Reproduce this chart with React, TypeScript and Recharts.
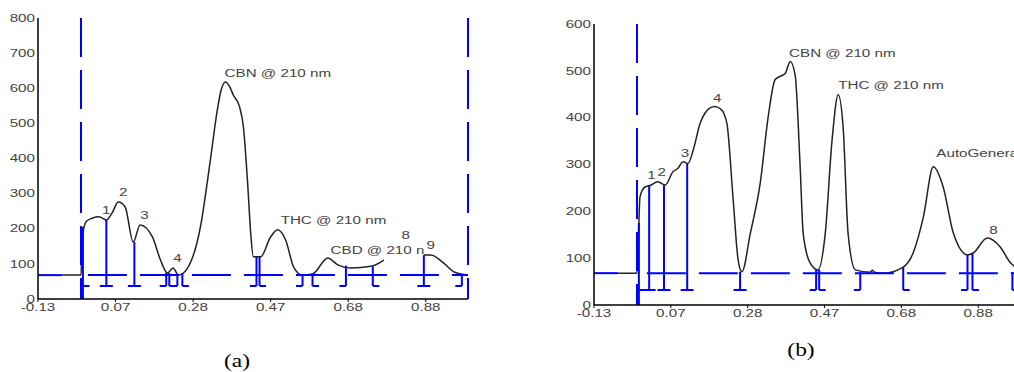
import { LineChart, Line, XAxis, YAxis, ReferenceLine, ReferenceDot } from "recharts";

// shared x axis (retention time, min)
const xDomain = [-0.13, 0.99];
const xTickValues = [-0.13, 0.072, 0.274, 0.476, 0.678, 0.88];
const xTickLabels = ["-0.13", "0.07", "0.28", "0.47", "0.68", "0.88"];

// ---- chromatogram (a)
const yTicksA = [0, 100, 200, 300, 400, 500, 600, 700, 800];
const timeA = [
  -0.067, -0.018, -0.015, -0.005, 0.011, 0.029, 0.048, 0.063, 0.079, 0.097, 0.118, 0.136, 0.168,
  0.189, 0.207, 0.222, 0.236, 0.249, 0.293, 0.319, 0.337, 0.347, 0.358, 0.369, 0.379, 0.395, 0.405,
  0.416, 0.424, 0.431, 0.45, 0.475, 0.494, 0.515, 0.536, 0.559, 0.585, 0.625, 0.651, 0.685, 0.737, 0.771,
  0.8, 0.875, 0.893, 0.927, 0.954, 0.99,
];
const signalA = [
  68, 68, 170, 220, 230, 234, 225, 245, 276, 262, 162, 211, 177,
  111, 74, 88, 68, 74, 205, 396, 538, 595, 618, 605, 580, 547, 490,
  330, 188, 120, 120, 175, 197, 168, 91, 68, 71, 117, 97, 88, 93, 111,
  null, 125, 125, 102, 77, 68,
];
const peakTextA = ["1", "2", "3", "4", "CBN @ 210 nm", "THC @ 210 nm", "CBD @ 210 n", "8", "9"];
const peakTimeA = [0.048, 0.092, 0.147, 0.233, 0.356, 0.502, 0.632, 0.828, 0.893];
const peakLevelA = [254, 304, 239, 117, 644, 225, 140, 182, 154];
// integration marks: time, top, bottom, cap side
const markTimeA = [-0.013, 0.048, 0.121, 0.204, 0.212, 0.233, 0.246, 0.439, 0.447, 0.559, 0.585, 0.672, 0.742, 0.875, 0.974];
const markTopA = [205, 225, 162, 74, 74, 68, 74, 120, 120, 68, 71, 95, 93, 125, 68];
const markBottomA = [0, 37, 37, 37, 37, 37, 37, 37, 37, 37, 37, 37, 37, 37, 37];
const markCapA = ["right", "both", "both", "left", "right", "left", "right", "left", "right", "left", "right", "left", "right", "both", "left"];
const eventLinesA = [-0.018, 0.99];

// ---- chromatogram (b)
const yTicksB = [0, 100, 200, 300, 400, 500, 600];
const timeB = [
  -0.067, -0.017, -0.009, 0.004, 0.017, 0.038, 0.057, 0.078, 0.091, 0.104, 0.117, 0.131, 0.149,
  0.162, 0.175, 0.188, 0.202, 0.212, 0.22, 0.236, 0.249, 0.259, 0.281, 0.307, 0.328, 0.346, 0.359, 0.373, 0.386, 0.399,
  0.412, 0.42, 0.438, 0.459, 0.478, 0.496, 0.512, 0.525, 0.538, 0.557, 0.596, 0.602, 0.607, 0.631,
  0.683, 0.709, 0.736, 0.762, 0.788, 0.815, 0.852, 0.867, 0.904, 0.938, 0.965, 0.99,
];
const signalB = [
  68, 68, 231, 252, 255, 263, 256, 285, 292, 306, 302, 331, 388,
  410, 421, 424, 419, 408, 385, 224, 96, 71, 153, 260, 402, 481, 488, 495, 520, 490,
  295, 153, 90, 75, 153, 353, 449, 380, 153, 75, 70, 74, 70, 68,
  81, 111, 188, 295, 252, 153, 107, 111, 143, 124, 90, 75,
];
const peakTextB = ["1", "2", "3", "4", "CBN @ 210 nm", "THC @ 210 nm", "AutoGenerated", "8"];
const peakTimeB = [0.021, 0.048, 0.109, 0.194, 0.383, 0.512, 0.77, 0.92];
const peakLevelB = [278, 284, 325, 442, 538, 470, 323, 160];
const markTimeB = [-0.012, 0.015, 0.054, 0.115, 0.254, 0.454, 0.462, 0.57, 0.683, 0.852, 0.865, 0.97];
const markTopB = [175, 255, 256, 302, 71, 75, 75, 70, 81, 107, 110, 70];
const markBottomB = [0, 32, 32, 32, 32, 32, 32, 32, 32, 32, 32, 32];
const markCapB = ["right", "both", "both", "both", "both", "left", "right", "left", "right", "left", "right", "right"];
const eventLinesB = [-0.017];

const BLUE = "#0000ff";
const INK = "#444";
const STRETCH = 1.38;
const CAP = 0.017;

const rowsA = timeA.map((t, i) => ({ t, v: signalA[i] }));
const rowsB = timeB.map((t, i) => ({ t, v: signalB[i] }));

function StretchText({ x, y, text, anchor = "middle" }: any) {
  return (
    <text
      transform={`translate(${x},${y}) scale(${STRETCH},1)`}
      textAnchor={anchor}
      dominantBaseline="central"
      fontSize={11}
      fontFamily="'Liberation Sans', Arial, sans-serif"
      fill={INK}
    >
      {text}
    </text>
  );
}

const xTick = (p: any) => (
  <StretchText x={p.x} y={p.y + 5} text={xTickLabels[xTickValues.indexOf(p.payload.value)]} />
);
const yTick = (p: any) => <StretchText x={p.x} y={p.y} anchor="end" text={String(p.payload.value)} />;

function marks(times: number[], tops: number[], bottoms: number[], caps: string[], capY: number, key: string) {
  return times.flatMap((t, i) => {
    const left = caps[i] === "right" ? t : t - CAP;
    const right = caps[i] === "left" ? t : t + CAP;
    return [
      <ReferenceLine key={`${key}v${i}`} ifOverflow="visible" stroke={BLUE} strokeWidth={2}
        segment={[{ x: t, y: tops[i] }, { x: t, y: bottoms[i] }]} />,
      <ReferenceLine key={`${key}c${i}`} ifOverflow="visible" stroke={BLUE} strokeWidth={2}
        segment={[{ x: left, y: capY }, { x: right, y: capY }]} />,
    ];
  });
}

function labels(texts: string[], times: number[], levels: number[], key: string) {
  return texts.map((s, i) => (
    <ReferenceDot key={`${key}l${i}`} x={times[i]} y={levels[i]} r={0} ifOverflow="visible"
      shape={(p: any) => <StretchText x={p.cx} y={p.cy} text={s} anchor={s.length > 2 ? "start" : "middle"} />} />
  ));
}

function Chromatogram({ rows, yTicks, yMax, events, dashStart, markSet, labelSet, width, height, top, right, id }: any) {
  return (
    <LineChart width={width} height={height} data={rows} margin={{ top, right, bottom: 0, left: 0 }}>
      <XAxis dataKey="t" type="number" domain={xDomain} ticks={xTickValues} allowDataOverflow height={21}
        tickSize={3} tickMargin={0} stroke="#000" axisLine={{ stroke: "#000", strokeWidth: 1.5 }}
        tickLine={{ stroke: "#000" }} tick={xTick} />
      <YAxis type="number" domain={[0, yMax]} ticks={yTicks} allowDataOverflow width={38}
        tickLine={false} tickSize={0} tickMargin={3} axisLine={{ stroke: "#000", strokeWidth: 1.5 }} tick={yTick} />
      <Line dataKey="v" type="monotone" stroke="#222" strokeWidth={1.5} dot={false} isAnimationActive={false} />
      <ReferenceLine ifOverflow="visible" stroke={BLUE} strokeWidth={2}
        segment={[{ x: -0.13, y: 68 }, { x: -0.067, y: 68 }]} />
      <ReferenceLine ifOverflow="visible" stroke={BLUE} strokeWidth={2} strokeDasharray="39 13"
        segment={[{ x: dashStart, y: 68 }, { x: 0.99, y: 68 }]} />
      {events.map((t: number, i: number) => (
        <ReferenceLine key={`${id}e${i}`} ifOverflow="visible" stroke={BLUE} strokeWidth={2} strokeDasharray="39 13"
          segment={[{ x: t, y: yMax }, { x: t, y: 0 }]} />
      ))}
      {markSet}
      {labelSet}
    </LineChart>
  );
}

export default function App() {
  return (
    <div style={{ position: "absolute", left: 0, top: 0, width: 1014, height: 372, overflow: "hidden", background: "#fff" }}>
      <div style={{ position: "absolute", left: 0, top: 0 }}>
        <Chromatogram id="a" rows={rowsA} yTicks={yTicksA} yMax={800} events={eventLinesA} dashStart={0}
          width={472} height={320} top={18} right={4}
          markSet={marks(markTimeA, markTopA, markBottomA, markCapA, 37, "a")}
          labelSet={labels(peakTextA, peakTimeA, peakLevelA, "a")} />
      </div>
      <div style={{ position: "absolute", left: 556, top: 0 }}>
        <Chromatogram id="b" rows={rowsB} yTicks={yTicksB} yMax={600} events={eventLinesB} dashStart={0.009}
          width={464} height={326} top={24} right={0}
          markSet={marks(markTimeB, markTopB, markBottomB, markCapB, 32, "b")}
          labelSet={labels(peakTextB, peakTimeB, peakLevelB, "b")} />
      </div>
      <div style={{ position: "absolute", left: 237, top: 361, transform: "translate(-50%,-50%) scaleX(1.3)",
        fontFamily: "'Liberation Serif', 'Times New Roman', serif", fontSize: 18, lineHeight: 1 }}>(a)</div>
      <div style={{ position: "absolute", left: 801, top: 350, transform: "translate(-50%,-50%) scaleX(1.3)",
        fontFamily: "'Liberation Serif', 'Times New Roman', serif", fontSize: 18, lineHeight: 1 }}>(b)</div>
    </div>
  );
}
